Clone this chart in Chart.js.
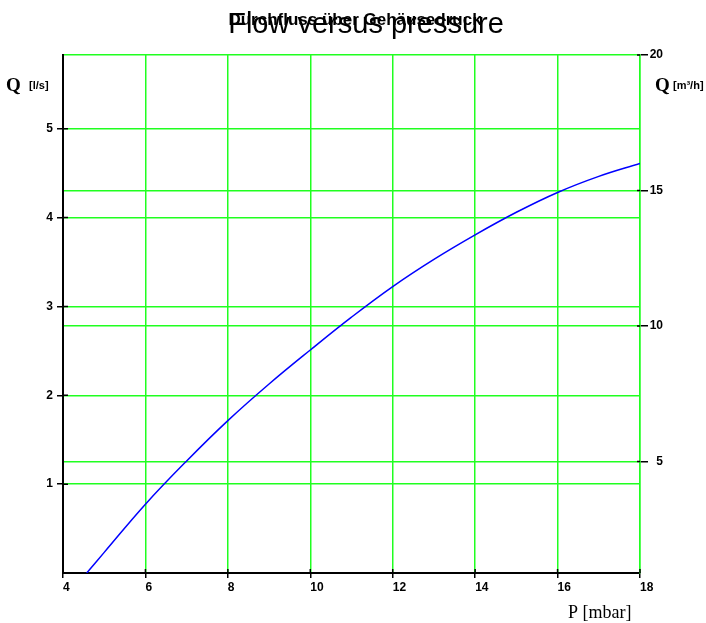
<!DOCTYPE html>
<html>
<head>
<meta charset="utf-8">
<script src="https://cdn.jsdelivr.net/npm/chart.js@4"></script>
<style>
  html, body { margin: 0; padding: 0; background: #fff; }
  #wrap { width: 706px; height: 623px; }
</style>
</head>
<body>
<div id="wrap"><canvas id="flowChart" width="706" height="623"></canvas></div>
<script>
// pressure in mbar / flow in l/s
const pressure = [4.575, 5, 6, 7, 8, 9, 10, 11, 12, 13, 14, 15, 16, 17, 18];
const flowLs   = [0, 0.232, 0.774, 1.261, 1.715, 2.127, 2.51, 2.88, 3.224, 3.53, 3.806, 4.06, 4.283, 4.464, 4.61];

const xTicks     = [4, 6, 8, 10, 12, 14, 16, 18];
const leftTicks  = [1, 2, 3, 4, 5];
const rightTicks = [5, 10, 15, 20];

const titleDe = 'Durchfluss über Gehäusedruck';
const titleEn = 'Flow versus pressure';

const SANS = '"Liberation Sans", Arial, sans-serif';
const SERIF = '"Liberation Serif", "Times New Roman", serif';
const GRID = '#20ff20';

// titles and axis captions sit in odd places, so draw them by hand
const captions = {
    id: 'captions',
    afterDraw(chart) {
        const ctx = chart.ctx;
        const area = chart.chartArea;
        ctx.save();

        // short inner halves of the tick marks (they cross the axes)
        ctx.strokeStyle = '#000';
        ctx.lineWidth = 1.5;
        ctx.beginPath();
        leftTicks.forEach(v => {
            const y = chart.scales.yL.getPixelForValue(v);
            ctx.moveTo(area.left, y); ctx.lineTo(area.left + 5, y);
        });
        xTicks.forEach(v => {
            const x = chart.scales.x.getPixelForValue(v);
            ctx.moveTo(x, area.bottom); ctx.lineTo(x, area.bottom - 4);
        });
        rightTicks.forEach(v => {
            const y = chart.scales.yR.getPixelForValue(v);
            ctx.moveTo(area.right, y); ctx.lineTo(area.right - 3, y);
        });
        ctx.stroke();

        ctx.fillStyle = '#000';
        ctx.textBaseline = 'alphabetic';

        ctx.textAlign = 'center';
        ctx.font = 'bold 17px ' + SANS;
        ctx.fillText(titleDe, 355, 25);
        ctx.font = '29px ' + SANS;
        ctx.fillText(titleEn, 366, 33);

        ctx.textAlign = 'left';
        ctx.font = 'bold 19px ' + SERIF;
        ctx.fillText('Q', 6, 91);
        ctx.fillText('Q', 655, 91);
        ctx.font = 'bold 11px ' + SANS;
        ctx.fillText('[l/s]', 29, 89);
        ctx.fillText('[m³/h]', 673, 89);

        ctx.font = '18px ' + SERIF;
        ctx.fillText('P [mbar]', 568, 618);
        ctx.restore();
    }
};

const tickFont = { family: SANS, size: 12, weight: 'bold' };

new Chart(document.getElementById('flowChart'), {
    type: 'line',
    data: {
        datasets: [{
            data: pressure.map((p, i) => ({ x: p, y: flowLs[i] })),
            borderColor: '#0000ff',
            borderWidth: 1.5,
            pointRadius: 0,
            fill: false,
            tension: 0.4,
            yAxisID: 'yL'
        }]
    },
    options: {
        responsive: false,
        animation: false,
        layout: { padding: { top: 55, right: 43, bottom: 0, left: 0 } },
        plugins: {
            legend: { display: false },
            tooltip: { enabled: false },
            title: { display: false }
        },
        scales: {
            x: {
                type: 'linear',
                min: 4,
                max: 18,
                afterBuildTicks: s => { s.ticks = xTicks.map(v => ({ value: v })); },
                afterFit: s => { s.height = 50; },
                ticks: { font: tickFont, color: '#000', align: 'start', padding: 2, maxRotation: 0 },
                grid: { color: GRID, tickColor: '#000', tickLength: 5, lineWidth: 1.5 },
                border: { color: '#000', width: 2 }
            },
            yL: {
                type: 'linear',
                position: 'left',
                min: 0,
                max: 5.83,
                afterBuildTicks: s => { s.ticks = leftTicks.map(v => ({ value: v })); },
                afterFit: s => { s.width = 63; },
                ticks: { font: tickFont, color: '#000', padding: 4 },
                grid: { color: GRID, tickColor: '#000', tickLength: 6, lineWidth: 1.5 },
                border: { color: '#000', width: 2 }
            },
            yR: {
                type: 'linear',
                position: 'right',
                min: 0.88,
                max: 20,
                afterBuildTicks: s => { s.ticks = rightTicks.map(v => ({ value: v })); },
                afterFit: s => { s.width = 23; },
                ticks: { font: tickFont, color: '#000', padding: 4, crossAlign: 'far' },
                grid: { color: GRID, tickColor: '#000', tickLength: 8, lineWidth: 1.5 },
                border: { color: GRID, width: 1.5 }
            }
        }
    },
    plugins: [captions]
});
</script>
</body>
</html>
